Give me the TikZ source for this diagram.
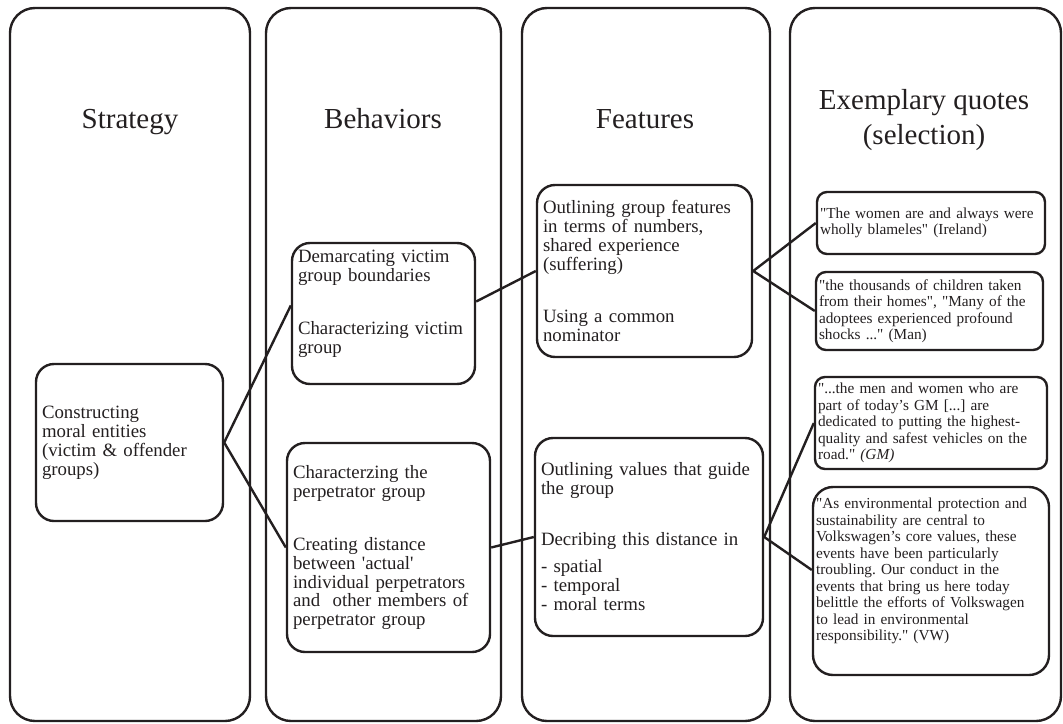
\documentclass[tikz,border=0pt]{standalone}
\usepackage{fontspec}
\setmainfont{Liberation Serif}[Ligatures=TeXOff]
\usetikzlibrary{calc}
\definecolor{ink}{HTML}{231F20}
\tikzset{
  col/.style={draw=ink, line width=2.4pt, rounded corners=25pt, inner sep=0pt},
  head/.style={align=center, font=\fontsize{29}{35}\selectfont, text=ink},
  bbox/.style={draw=ink, line width=2.4pt, rounded corners=18pt, align=left,
    inner xsep=6pt, inner ysep=0pt, font=\fontsize{18.8}{19}\selectfont, text=ink},
  qbox/.style={draw=ink, line width=2.4pt, rounded corners=10pt, align=left,
    inner xsep=3pt, inner ysep=0pt, font=\fontsize{15.3}{16.5}\selectfont, text=ink},
  link/.style={draw=ink, line width=2.4pt}
}
\frenchspacing
\begin{document}
\begin{tikzpicture}[x=1pt,y=-1pt]
\useasboundingbox (0,0) rectangle (1063,723);
% columns
\node[col, minimum width=240pt, minimum height=713pt] (col1) at (130,364.5) {};
\node[col, minimum width=235pt, minimum height=713pt] (col2) at (383.5,364.5) {};
\node[col, minimum width=248pt, minimum height=713pt] (col3) at (646,364.5) {};
\node[col, minimum width=271pt, minimum height=713pt] (col4) at (925.5,364.5) {};
% headers
\node[head, anchor=base] (h1) at (130,128) {Strategy};
\node[head, anchor=base] (h2) at (383,128) {Behaviors};
\node[head, anchor=base] (h3) at (645,128) {Features};
\node[head] (h4) at (924,120) {Exemplary quotes\\(selection)};
% strategy
\node[bbox, minimum width=187pt, minimum height=157pt, text width=175pt] (s1) at (129.5,442.5)
 {Constructing\\moral entities\\(victim \& offender\\groups)};
% behaviors
\node[bbox, minimum width=183pt, minimum height=141pt, text width=171pt] (b1) at (383.5,313.5)
 {Demarcating victim\\group boundaries\\[34pt]Characterizing victim\\group\par\vspace*{20pt}};
\node[bbox, minimum width=203pt, minimum height=209pt, text width=191pt] (b2) at (388.5,547.5)
 {Characterzing the\\perpetrator group\\[34pt]Creating distance\\between 'actual'\\individual perpetrators\\and\ \ other members of\\perpetrator group};
% features
\node[bbox, minimum width=215pt, minimum height=172pt, text width=203pt] (f1) at (644.5,271)
 {Outlining group features\\in terms of numbers,\\shared experience\\(suffering)\\[33pt]Using a common\\nominator};
\node[bbox, minimum width=228pt, minimum height=198pt, text width=216pt] (f2) at (649,537)
 {Outlining values that guide\\the group\\[32pt]Decribing this distance in\\[8pt]- spatial\\- temporal\\- moral terms};
% quotes
\node[qbox, minimum width=228pt, minimum height=62pt, text width=222pt] (q1) at (931,223)
 {"The women are and always were\\wholly blameles" (Ireland)};
\node[qbox, minimum width=227pt, minimum height=78pt, text width=221pt] (q2) at (929.5,311)
 {"the thousands of children taken\\from their homes", "Many of the\\adoptees experienced profound\\shocks ..." (Man)};
\node[qbox, minimum width=232pt, minimum height=92pt, text width=226pt] (q3) at (931,423)
 {"...the men and women who are\\part of today’s GM [...] are\\dedicated to putting the highest-\\quality and safest vehicles on the\\road." \textit{(GM)}};
\node[qbox, rounded corners=20pt, minimum width=236pt, minimum height=188pt, text width=230pt] (q4) at (931,581)
 {"As environmental protection and\\sustainability are central to\\Volkswagen’s core values, these\\events have been particularly\\troubling. Our conduct in the\\events that bring us here today\\belittle the efforts of Volkswagen\\to lead in environmental\\responsibility." (VW)\par\vspace*{20pt}};
% connectors
\draw[link] (s1.east) -- ([yshift=8pt]b1.west);
\draw[link] (s1.east) -- (b2.west);
\draw[link] ([yshift=12pt]b1.east) -- (f1.west);
\draw[link] (b2.east) -- (f2.west);
\draw[link] (f1.east) -- (q1.west);
\draw[link] (f1.east) -- (q2.west);
\draw[link] (f2.east) -- (q3.west);
\draw[link] (f2.east) -- ([yshift=11pt]q4.west);
\end{tikzpicture}
\end{document}
